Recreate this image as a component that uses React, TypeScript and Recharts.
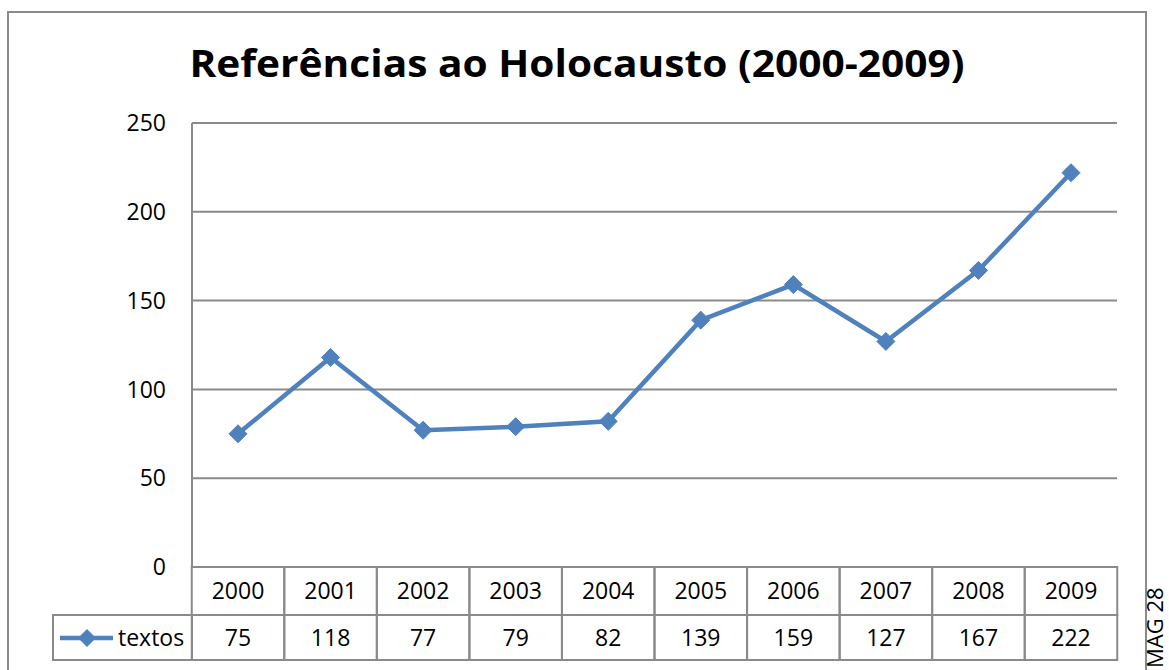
import React from 'react';
import { LineChart, Line, XAxis, YAxis, CartesianGrid } from 'recharts';

const YEARS = ['2000', '2001', '2002', '2003', '2004', '2005', '2006', '2007', '2008', '2009'];
const TEXTOS = [75, 118, 77, 79, 82, 139, 159, 127, 167, 222];
const Y_TICKS = [0, 50, 100, 150, 200, 250];
const SERIES_NAME = 'textos';
const TITLE = 'Referências ao Holocausto (2000-2009)';

const W = 1169;
const H = 670;
const FONT = '"Open Sans", "Liberation Sans", sans-serif';
const BLUE = '#4F81BD';
const GRID = '#8a8a8a';

const data = YEARS.map((year, i) => ({ year, textos: TEXTOS[i] }));

// diamond marker like Excel's default
const Diamond = (props: any) => {
    const { cx, cy } = props;
    if (cx == null || cy == null) return null;
    const r = 9;
    return <polygon points={`${cx},${cy - r} ${cx + r},${cy} ${cx},${cy + r} ${cx - r},${cy}`} fill={BLUE} stroke={BLUE} strokeWidth={1} />;
};

// each x tick draws one column of the data table
const TableTick = (props: any) => {
    const { x, y, index, width, visibleTicksCount } = props;
    const band = width && visibleTicksCount ? width / visibleTicksCount : 92.5;
    const left = x - band / 2;
    return (
        <g>
            <rect x={left} y={y} width={band} height={48} fill="none" stroke={GRID} strokeWidth={2} />
            <rect x={left} y={y + 48} width={band} height={45} fill="none" stroke={GRID} strokeWidth={2} />
            <text x={x} y={y + 32} textAnchor="middle" fontSize={23} fontFamily={FONT} fill="#000">{YEARS[index]}</text>
            <text x={x} y={y + 79} textAnchor="middle" fontSize={23} fontFamily={FONT} fill="#000">{TEXTOS[index]}</text>
        </g>
    );
};

const App: React.FC = () => {
    return (
        <div style={{ position: 'absolute', left: 0, top: 0, width: W, height: H, background: '#fff', overflow: 'hidden' }}>
            <LineChart width={W} height={H} data={data} margin={{ top: 123, right: 52, bottom: 10, left: 0 }}>
                <CartesianGrid vertical={false} stroke={GRID} strokeWidth={2} />
                <XAxis
                    dataKey="year"
                    height={93}
                    padding={{ left: 46, right: 46 }}
                    axisLine={false}
                    tickLine={false}
                    tickSize={0}
                    tickMargin={0}
                    interval={0}
                    tick={<TableTick />}
                />
                <YAxis
                    width={192}
                    domain={[0, 250]}
                    ticks={Y_TICKS}
                    axisLine={{ stroke: GRID, strokeWidth: 2 }}
                    tickLine={false}
                    tickSize={0}
                    tickMargin={26}
                    tick={{ fontSize: 23, fontFamily: FONT, fill: '#000' }}
                />
                <Line
                    type="linear"
                    dataKey="textos"
                    stroke={BLUE}
                    strokeWidth={4.5}
                    dot={<Diamond />}
                    activeDot={false}
                    isAnimationActive={false}
                />
            </LineChart>
            <svg width={W} height={H} style={{ position: 'absolute', left: 0, top: 0, pointerEvents: 'none' }}>
                <rect x={8} y={12} width={1138} height={700} fill="none" stroke={GRID} strokeWidth={2} />
                <text x={577} y={77} textAnchor="middle" fontSize={37} fontWeight="bold" fontFamily={FONT} fill="#000"
                    textLength={775} lengthAdjust="spacingAndGlyphs">{TITLE}</text>
                {/* legend cell of the data table */}
                <rect x={53} y={615} width={139} height={45} fill="none" stroke={GRID} strokeWidth={2} />
                <line x1={60} y1={638} x2={113} y2={638} stroke={BLUE} strokeWidth={4.5} />
                <polygon points="87,629 96,638 87,647 78,638" fill={BLUE} />
                <text x={118} y={646} fontSize={23} fontFamily={FONT} fill="#000">{SERIES_NAME}</text>
                <text transform="translate(1163,668) rotate(-90)" fontSize={22} fontFamily={FONT} fill="#000">MAG 28</text>
            </svg>
        </div>
    );
};

export default App;
